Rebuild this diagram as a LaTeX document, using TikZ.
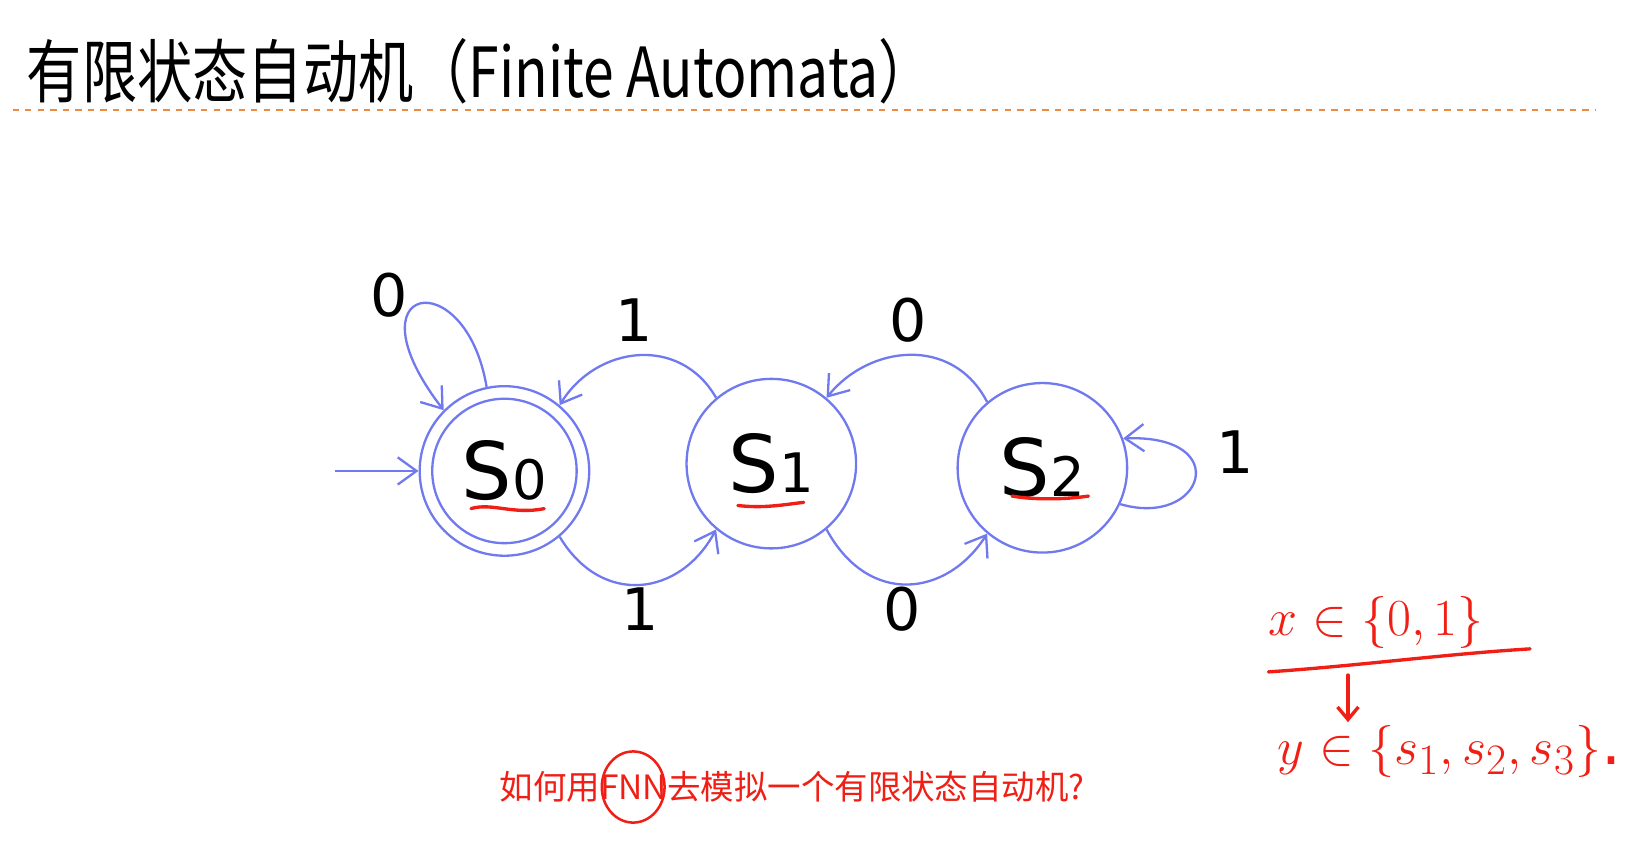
\documentclass[tikz,border=0pt]{standalone}
\usepackage{fontspec}
\setmainfont{DejaVu Sans}
\newfontfamily\cjk{Noto Sans CJK SC}
\usetikzlibrary{arrows.meta}
\definecolor{fsa}{RGB}{112,122,238}
\definecolor{hand}{RGB}{240,30,20}
\definecolor{dashc}{RGB}{235,140,70}
\begin{document}
\begin{tikzpicture}[x=0.5pt,y=-0.5pt,
  st/.style={circle,draw=fsa,line width=1.1pt,minimum size=162*0.5pt,inner sep=0pt,font=\fontsize{38}{40}\selectfont},
  edge/.style={draw=fsa,line width=1.1pt,-{Straight Barb[length=9pt,width=13pt]}},
  lab/.style={font=\fontsize{28}{30}\selectfont},
  red/.style={draw=hand,line width=1.6pt,line cap=round}]
\useasboundingbox (0,0) rectangle (1568,808);
\node[anchor=west,xscale=0.8,font=\cjk\fontsize{33}{40}\selectfont] (title) at (20,68) {有限状态自动机（Finite Automata）};
\draw[dashc,dashed,line width=0.6pt] (12,105) -- (1525,105);
\node[st] (s0) at (482,450) {S\fontsize{26}{28}\selectfont 0};
\node[circle,draw=fsa,line width=1.1pt,minimum size=138*0.5pt,inner sep=0pt] (s0in) at (482,450) {};
\node[st] (s1) at (737,443) {S\fontsize{26}{28}\selectfont 1};
\node[st] (s2) at (996,447) {S\fontsize{26}{28}\selectfont 2};
\coordinate (init) at (320,450);
\draw[edge] (init) -- (s0.west);
\draw[edge] (s0.102) .. controls (445,250) and (330,270) .. (s0.135);
\draw[edge] (s1.130) .. controls (650,320) and (570,330) .. (s0.50);
\draw[edge] (s2.130) .. controls (910,320) and (830,330) .. (s1.50);
\draw[edge] (s0.-50) .. controls (575,580) and (650,570) .. (s1.-130);
\draw[edge] (s1.-50) .. controls (830,580) and (905,570) .. (s2.-130);
\draw[edge] (s2.-25) .. controls (1150,505) and (1180,415) .. (s2.20);
\node[lab] (l1) at (372,282) {0};
\node[lab] (l2) at (606,306) {1};
\node[lab] (l3) at (868,306) {0};
\node[lab] (l4) at (612,582) {1};
\node[lab] (l5) at (862,582) {0};
\node[lab] (l6) at (1180,432) {1};
% red underlines
\draw[red] (450,486) .. controls (470,480) and (490,492) .. (520,486);
\draw[red] (705,483) .. controls (730,486) and (750,482) .. (768,480);
\draw[red] (967,474) .. controls (990,478) and (1020,477) .. (1040,474);
% handwriting
\node[text=hand,font=\fontsize{30}{32}\selectfont] (xin) at (1315,595) {$x\in\{0,1\}$};
\coordinate (la) at (1212,642);
\coordinate (lb) at (1462,620);
\draw[red] (la) .. controls (1300,636) and (1380,625) .. (lb);
\coordinate (ar1) at (1288,645);
\coordinate (ar2) at (1288,690);
\draw[red,-{Straight Barb[length=6pt,width=10pt]}] (ar1) -- (ar2);
\node[text=hand,font=\fontsize{30}{32}\selectfont] (yin) at (1385,718) {$y\in\{s_1,s_2,s_3\}$.};
\node[text=hand,font=\cjk\fontsize{16}{18}\selectfont] (q) at (757,752) {如何用FNN去模拟一个有限状态自动机?};
\draw[red,line width=1.2pt] (605,752) circle[x radius=30,y radius=34];
\end{tikzpicture}
\end{document}
